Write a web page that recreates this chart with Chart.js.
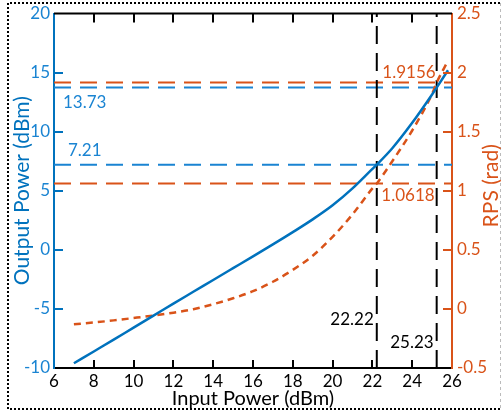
<!DOCTYPE html>
<html>
<head>
<meta charset="utf-8">
<script src="https://cdn.jsdelivr.net/npm/chart.js@4.4.0/dist/chart.umd.min.js"></script>
<style>
  html, body { margin: 0; padding: 0; background: #fff; }
  canvas { display: block; }
</style>
</head>
<body>
<canvas id="chart" width="503" height="419"></canvas>
<script>
// DATA
const inputPower = [7, 8, 9, 10, 11, 12, 13, 14, 15, 16, 17, 18, 19, 20, 21, 22, 22.22, 23, 24, 25, 25.23, 25.8]
const outputPower = [-9.6, -8.6, -7.6, -6.58, -5.57, -4.55, -3.55, -2.55, -1.55, -0.55, 0.46, 1.5, 2.58, 3.77, 5.2, 6.85, 7.21, 8.6, 10.75, 13.15, 13.73, 15.2]
const rps = [-0.13, -0.115, -0.097, -0.077, -0.056, -0.032, -0.002, 0.04, 0.09, 0.15, 0.23, 0.33, 0.45, 0.61, 0.8, 1.02, 1.0618, 1.25, 1.51, 1.82, 1.9156, 2.1]

const refInput = [22.22, 25.23]
const refOutput = [13.73, 7.21]
const refRps = [1.9156, 1.0618]

const xTicks = [6, 8, 10, 12, 14, 16, 18, 20, 22, 24, 26]
const yTicks = [-10, -5, 0, 5, 10, 15, 20]
const y2Ticks = [-0.5, 0, 0.5, 1, 1.5, 2, 2.5]

const BLUE = '#0072BD'
const BLUE_LIGHT = '#1a84d2'
const ORANGE = '#D95319'
const FONT = 'Lato'

const xMin = xTicks[0]
const xMax = xTicks[xTicks.length - 1]
const yMin = yTicks[0]
const yMax = yTicks[yTicks.length - 1]

const hLine = (y, axis, color) => ({
  data: [{ x: xMin, y: y }, { x: xMax, y: y }],
  yAxisID: axis,
  borderColor: color,
  borderWidth: 2,
  borderDash: [17, 9],
  pointRadius: 0
})

const vLine = (x) => ({
  data: [{ x: x, y: yMin }, { x: x, y: yMax }],
  yAxisID: 'y',
  borderColor: '#000',
  borderWidth: 2,
  borderDash: [18, 9],
  pointRadius: 0
})

// inward ticks, top frame, texts, border
const decorations = {
  id: 'decorations',
  beforeDraw(chart) {
    const ctx = chart.ctx
    ctx.save()
    ctx.lineWidth = 2
    ctx.setLineDash([2, 2])
    ctx.strokeStyle = '#000'
    ctx.beginPath()
    ctx.moveTo(500, 3)
    ctx.lineTo(8, 3)
    ctx.lineTo(8, 409)
    ctx.lineTo(500, 409)
    ctx.stroke()
    ctx.lineWidth = 1
    ctx.setLineDash([3, 3])
    ctx.strokeStyle = '#bbb'
    ctx.beginPath()
    ctx.moveTo(500.5, 3)
    ctx.lineTo(500.5, 409)
    ctx.stroke()
    ctx.restore()
  },
  afterDraw(chart) {
    const { ctx, chartArea: a, scales } = chart
    const x = scales.x, y = scales.y, y2 = scales.y2
    ctx.save()
    ctx.lineWidth = 2

    // top frame
    ctx.strokeStyle = '#000'
    ctx.beginPath()
    ctx.moveTo(a.left, a.top)
    ctx.lineTo(a.right, a.top)
    ctx.stroke()

    // x ticks, bottom and top
    xTicks.slice(1, -1).forEach((v) => {
      const px = Math.round(x.getPixelForValue(v))
      ctx.beginPath()
      ctx.moveTo(px, a.bottom)
      ctx.lineTo(px, a.bottom - 8)
      ctx.moveTo(px, a.top)
      ctx.lineTo(px, a.top + 9)
      ctx.stroke()
    })

    ctx.strokeStyle = BLUE
    yTicks.slice(1, -1).forEach((v) => {
      const py = Math.round(y.getPixelForValue(v))
      ctx.beginPath()
      ctx.moveTo(a.left, py)
      ctx.lineTo(a.left + 9, py)
      ctx.stroke()
    })

    ctx.strokeStyle = ORANGE
    y2Ticks.slice(1, -1).forEach((v) => {
      const py = Math.round(y2.getPixelForValue(v))
      ctx.beginPath()
      ctx.moveTo(a.right, py)
      ctx.lineTo(a.right - 9, py)
      ctx.stroke()
    })

    // value labels
    ctx.font = `17px ${FONT}`
    ctx.textBaseline = 'middle'
    ctx.fillStyle = BLUE_LIGHT
    ctx.textAlign = 'left'
    ctx.fillText(refOutput[0].toFixed(2), x.getPixelForValue(6.45), y.getPixelForValue(refOutput[0]) + 15)
    ctx.fillText(refOutput[1].toFixed(2), x.getPixelForValue(6.7), y.getPixelForValue(refOutput[1]) - 14)

    ctx.fillStyle = ORANGE
    ctx.textAlign = 'right'
    ctx.fillText(refRps[0].toFixed(4), x.getPixelForValue(refInput[1]) - 1, y2.getPixelForValue(refRps[0]) - 10)
    ctx.fillText(refRps[1].toFixed(4), x.getPixelForValue(refInput[1]) - 2, y2.getPixelForValue(refRps[1]) + 12)

    ctx.fillStyle = '#000'
    ctx.fillText(refInput[0].toFixed(2), x.getPixelForValue(refInput[0]) - 3, a.bottom - 48)
    ctx.fillText(refInput[1].toFixed(2), x.getPixelForValue(refInput[1]) - 3, a.bottom - 25)

    // right axis title, reading upwards
    ctx.font = `21px ${FONT}`
    ctx.fillStyle = ORANGE
    ctx.textAlign = 'center'
    ctx.translate(491, (a.top + a.bottom) / 2 - 5)
    ctx.rotate(-Math.PI / 2)
    ctx.fillText('RPS (rad)', 0, 0)
    ctx.restore()
  }
}

new Chart(document.getElementById('chart'), {
  type: 'line',
  data: {
    datasets: [
      {
        label: 'Output Power',
        data: inputPower.map((v, i) => ({ x: v, y: outputPower[i] })),
        yAxisID: 'y',
        borderColor: BLUE,
        borderWidth: 2.5,
        pointRadius: 0,
        cubicInterpolationMode: 'monotone'
      },
      {
        label: 'RPS',
        data: inputPower.map((v, i) => ({ x: v, y: rps[i] })),
        yAxisID: 'y2',
        borderColor: ORANGE,
        borderWidth: 2.5,
        borderDash: [7, 5],
        pointRadius: 0,
        cubicInterpolationMode: 'monotone'
      },
      vLine(refInput[0]),
      vLine(refInput[1]),
      hLine(refOutput[0], 'y', BLUE_LIGHT),
      hLine(refOutput[1], 'y', BLUE_LIGHT),
      hLine(refRps[0], 'y2', ORANGE),
      hLine(refRps[1], 'y2', ORANGE)
    ]
  },
  options: {
    responsive: false,
    animation: false,
    devicePixelRatio: 1,
    layout: { padding: { top: 9, left: 0, right: 0, bottom: 0 } },
    plugins: {
      legend: { display: false },
      tooltip: { enabled: false }
    },
    scales: {
      x: {
        type: 'linear',
        min: xMin,
        max: xMax,
        afterBuildTicks: (s) => { s.ticks = xTicks.map((v) => ({ value: v })) },
        afterFit: (s) => { s.height = 51 },
        grid: { display: false, drawTicks: false },
        border: { color: '#000', width: 2 },
        ticks: {
          color: '#000',
          padding: 5,
          maxRotation: 0,
          font: { family: FONT, size: 17, lineHeight: 1 },
          callback: (v) => String(v)
        },
        title: {
          display: true,
          text: 'Input Power (dBm)',
          color: '#000',
          padding: { top: 0, bottom: 8 },
          font: { family: FONT, size: 20, lineHeight: 1.2 }
        }
      },
      y: {
        type: 'linear',
        position: 'left',
        min: yMin,
        max: yMax,
        afterBuildTicks: (s) => { s.ticks = yTicks.map((v) => ({ value: v })) },
        afterFit: (s) => { s.width = 54 },
        grid: { display: false, drawTicks: false },
        border: { color: BLUE, width: 2 },
        ticks: {
          color: BLUE_LIGHT,
          padding: 4,
          font: { family: FONT, size: 17, lineHeight: 1 },
          callback: (v) => String(v)
        },
        title: {
          display: true,
          text: 'Output Power (dBm)',
          color: BLUE,
          padding: { top: 10, bottom: 0 },
          font: { family: FONT, size: 21, lineHeight: 1.2 }
        }
      },
      y2: {
        type: 'linear',
        position: 'right',
        min: y2Ticks[0],
        max: y2Ticks[y2Ticks.length - 1],
        afterBuildTicks: (s) => { s.ticks = y2Ticks.map((v) => ({ value: v })) },
        afterFit: (s) => { s.width = 51 },
        grid: { display: false, drawTicks: false },
        border: { color: ORANGE, width: 2 },
        ticks: {
          color: ORANGE,
          padding: 5,
          font: { family: FONT, size: 17, lineHeight: 1 },
          callback: (v) => String(v)
        }
      }
    }
  },
  plugins: [decorations]
})
</script>
</body>
</html>
